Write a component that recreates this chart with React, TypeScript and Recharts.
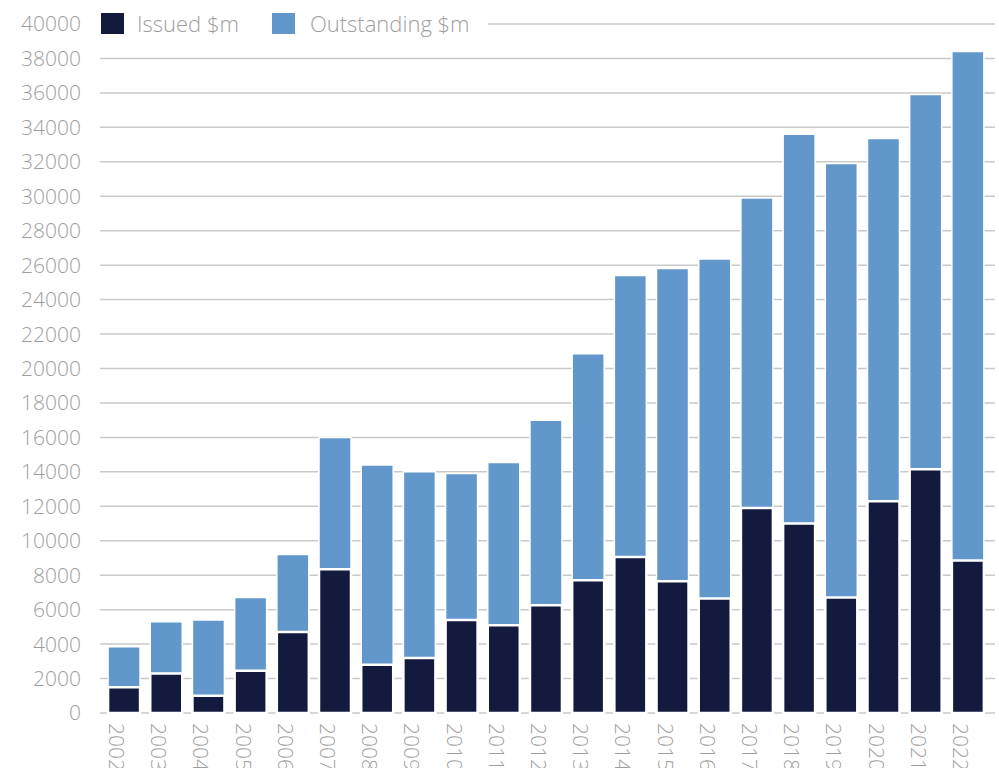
import { BarChart, Bar, XAxis, YAxis, CartesianGrid } from 'recharts'

const years = ['2002', '2003', '2004', '2005', '2006', '2007', '2008', '2009', '2010', '2011', '2012', '2013', '2014', '2015', '2016', '2017', '2018', '2019', '2020', '2021', '2022']
const issued = [1500, 2300, 1000, 2450, 4700, 8350, 2800, 3200, 5400, 5100, 6250, 7700, 9050, 7650, 6650, 11900, 11000, 6700, 12300, 14150, 8850]
const outstanding = [3850, 5300, 5400, 6700, 9200, 16000, 14400, 14000, 13900, 14550, 17000, 20850, 25400, 25800, 26350, 29900, 33600, 31900, 33350, 35900, 38400]
const yTicks = [0, 2000, 4000, 6000, 8000, 10000, 12000, 14000, 16000, 18000, 20000, 22000, 24000, 26000, 28000, 30000, 32000, 34000, 36000, 38000, 40000]

const data = years.map((year, i) => ({ year, issued: issued[i], outstanding: outstanding[i] }))

const DARK = '#131a3d'
const LIGHT = '#6197cb'
const TEXT = '#9e9e9e'
const FONT = '"Open Sans", sans-serif'

const YearTick = ({ x, y, payload }: any) => (
  <text
    transform={`translate(${x}, ${y}) rotate(90)`}
    x={2}
    y={15}
    fill={TEXT}
    fontSize={21}
    fontWeight={300}
    fontFamily={FONT}
    textAnchor="start"
  >
    {payload.value}
  </text>
)

export default function App() {
  return (
    <div style={{ position: 'absolute', left: 0, top: 0, width: 999, height: 768, background: '#fff' }}>
      <BarChart
        width={999}
        height={768}
        data={data}
        margin={{ top: 24, right: 4, left: 0, bottom: 0 }}
        barCategoryGap="12%"
      >
        <CartesianGrid vertical={false} stroke="#c9c9c9" strokeWidth={1.5} />
        <XAxis
          dataKey="year"
          height={55}
          padding={{ left: 3, right: 6 }}
          axisLine={false}
          tickLine={false}
          tickMargin={2}
          interval={0}
          tick={<YearTick />}
        />
        <XAxis dataKey="year" xAxisId="top" hide padding={{ left: 3, right: 6 }} />
        <YAxis
          width={100}
          domain={[0, 40000]}
          ticks={yTicks}
          interval={0}
          axisLine={false}
          tickLine={false}
          tickMargin={13}
          tick={{ fill: TEXT, fontSize: 21, fontWeight: 300, fontFamily: FONT }}
        />
        <Bar dataKey="outstanding" fill={LIGHT} stroke="#fff" strokeWidth={1.5} isAnimationActive={false} />
        <Bar dataKey="issued" xAxisId="top" fill={DARK} stroke="#fff" strokeWidth={2.5} isAnimationActive={false} />
      </BarChart>
      <div
        style={{
          position: 'absolute',
          left: 94,
          top: 6,
          width: 394,
          height: 34,
          background: '#fff',
          display: 'flex',
          alignItems: 'center',
          fontFamily: FONT,
          fontWeight: 300,
          fontSize: 22,
          color: TEXT,
        }}
      >
        <span style={{ width: 23, height: 21, background: DARK, marginLeft: 7, marginRight: 13 }} />
        <span>Issued $m</span>
        <span style={{ width: 23, height: 21, background: LIGHT, marginLeft: 33, marginRight: 15 }} />
        <span>Outstanding $m</span>
      </div>
    </div>
  )
}
